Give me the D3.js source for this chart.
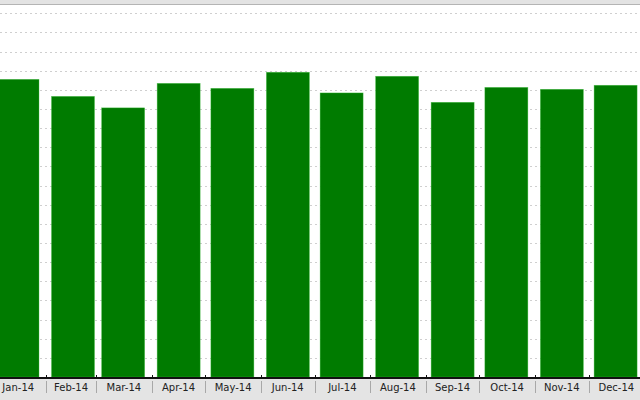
<!DOCTYPE html>
<html>
<head>
<meta charset="utf-8">
<script src="https://cdn.jsdelivr.net/npm/d3@7/dist/d3.min.js"></script>
<style>
html,body{margin:0;padding:0;background:#fff;overflow:hidden;}
svg{display:block;}
</style>
</head>
<body>
<svg id="chart" width="640" height="400"></svg>
<script>
const months = ["2014-01-01","2014-02-01","2014-03-01","2014-04-01","2014-05-01","2014-06-01",
                "2014-07-01","2014-08-01","2014-09-01","2014-10-01","2014-11-01","2014-12-01"];
const monthLabels = ["Jan-14","Feb-14","Mar-14","Apr-14","May-14","Jun-14",
                     "Jul-14","Aug-14","Sep-14","Oct-14","Nov-14","Dec-14"];
const values = [155.5, 146.6, 140.6, 153.4, 150.8, 159.2, 148.4, 157.1, 143.5, 151.3, 150.3, 152.4];
const gridValues = d3.range(10, 200, 10);

const W = 640, H = 400;
const svg = d3.select("#chart");
const parse = d3.utcParse("%Y-%m-%d");
const dates = months.map(parse);
const endDate = d3.utcMonth.offset(dates[dates.length-1], 1);

const x = d3.scaleUtc()
  .domain([d3.utcMonth.offset(dates[0], 1), dates[11]])
  .range([46, 588.6]);
const y = d3.scaleLinear().domain([0, 190]).range([377, 13.3]);

// top strip
svg.append("rect").attr("x",0).attr("y",0).attr("width",W).attr("height",4).attr("fill","#e3e3e3");
svg.append("line").attr("x1",0).attr("x2",W).attr("y1",4.5).attr("y2",4.5).attr("stroke","#b4b4b4").attr("stroke-width",1);

// grid
svg.append("g").selectAll("line").data(gridValues).join("line")
  .attr("x1",0).attr("x2",W)
  .attr("y1",d=>Math.round(y(d))+0.5).attr("y2",d=>Math.round(y(d))+0.5)
  .attr("stroke","#cfcfcf").attr("stroke-width",1).attr("stroke-dasharray","2,3");

// bars
const barW = 43, barOff = 5.5;
svg.append("g").selectAll("rect").data(values).join("rect")
  .attr("x",(d,i)=>x(dates[i])+barOff)
  .attr("width",barW)
  .attr("y",d=>y(d))
  .attr("height",d=>y(0)-y(d))
  .attr("fill","#007b00")
  .attr("stroke","#3fbf3f").attr("stroke-width",0.6).attr("stroke-opacity",0.6);

// bottom band
svg.append("rect").attr("x",0).attr("y",378).attr("width",W).attr("height",H-378).attr("fill","#e4e4e4");
svg.append("line").attr("x1",0).attr("x2",W).attr("y1",378).attr("y2",378).attr("stroke","#111").attr("stroke-width",2);

// small ticks on axis at month starts
const allStarts = dates.concat([endDate]);
svg.append("g").selectAll("line").data(allStarts).join("line")
  .attr("x1",d=>Math.round(x(d))+0.5).attr("x2",d=>Math.round(x(d))+0.5)
  .attr("y1",375).attr("y2",377).attr("stroke","#111").attr("stroke-width",1);

// separators
svg.append("g").selectAll("line").data(allStarts).join("line")
  .attr("x1",d=>Math.round(x(d))+0.5).attr("x2",d=>Math.round(x(d))+0.5)
  .attr("y1",381).attr("y2",393).attr("stroke","#a8a8a8").attr("stroke-width",1);

// labels
svg.append("g").selectAll("text").data(monthLabels).join("text")
  .attr("x",(d,i)=>(x(dates[i]) + x(allStarts[i+1]))/2)
  .attr("y",391)
  .attr("text-anchor","middle")
  .attr("font-family","DejaVu Sans, sans-serif")
  .attr("font-size",10)
  .attr("fill","#222")
  .text(d=>d);
</script>
</body>
</html>
